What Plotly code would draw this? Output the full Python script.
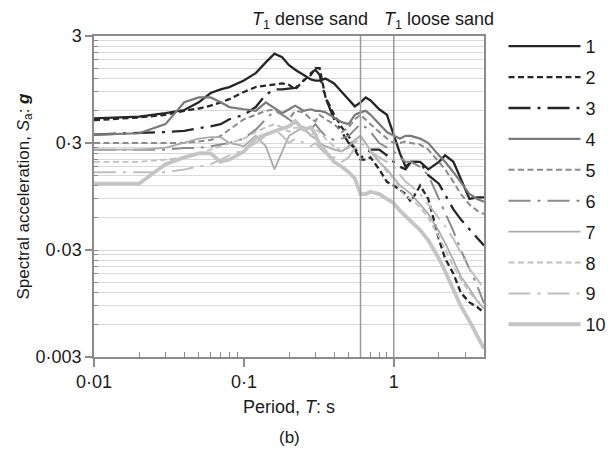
import math
import plotly.graph_objects as go

# ---- data ----
periods = [0.01, 0.02, 0.03, 0.04, 0.05, 0.06, 0.07, 0.08, 0.1, 0.12, 0.14, 0.16, 0.18, 0.2,
           0.22, 0.25, 0.28, 0.3, 0.32, 0.35, 0.4, 0.45, 0.5, 0.55, 0.6, 0.65, 0.7, 0.8, 0.9,
           1.0, 1.1, 1.2, 1.3, 1.5, 1.7, 2.0, 2.2, 2.5, 2.8, 3.2, 3.6, 4.0]

sa_1 = [0.51, 0.53, 0.57, 0.61, 0.72, 0.88, 0.95, 1.0, 1.15, 1.35, 1.7, 2.05, 1.9, 1.6,
        1.45, 1.3, 1.18, 1.15, 1.15, 1.2, 1.08, 0.9, 0.76, 0.66, 0.72, 0.8, 0.75, 0.62, 0.55,
        0.36, 0.24, 0.18, 0.2, 0.2, 0.17, 0.2, 0.23, 0.2, 0.14, 0.09, 0.093, 0.093]
sa_2 = [0.49, 0.52, 0.55, 0.6, 0.63, 0.67, 0.72, 0.77, 0.9, 1.0, 1.03, 1.05, 1.08, 1.05,
        0.95, 1.15, 1.3, 1.5, 1.5, 0.81, 0.55, 0.42, 0.35, 0.26, 0.21, 0.21, 0.22, 0.17, 0.13,
        0.12, 0.11, 0.1, 0.085, 0.12, 0.09, 0.038, 0.025, 0.018, 0.012, 0.0097, 0.0088, 0.0078]
sa_3 = [0.36, 0.37, 0.38, 0.39, 0.41, 0.43, 0.45, 0.5, 0.55, 0.65, 0.85, 0.95, 0.95, 0.97,
        0.98, 1.15, 1.35, 1.45, 1.3, 0.8, 0.5, 0.38, 0.3, 0.27, 0.22, 0.23, 0.26, 0.26, 0.23,
        0.2, 0.18, 0.17, 0.2, 0.2, 0.15, 0.125, 0.1, 0.072, 0.058, 0.047, 0.039, 0.033]
sa_4 = [0.36, 0.37, 0.45, 0.72, 0.8, 0.8, 0.72, 0.65, 0.62, 0.6, 0.72, 0.63, 0.57, 0.62,
        0.67, 0.6, 0.62, 0.6, 0.6, 0.58, 0.52, 0.47, 0.45, 0.55, 0.58, 0.6, 0.55, 0.45, 0.38,
        0.35, 0.33, 0.35, 0.35, 0.33, 0.3, 0.23, 0.2, 0.16, 0.13, 0.1, 0.09, 0.085]
sa_5 = [0.3, 0.3, 0.3, 0.3, 0.31, 0.32, 0.35, 0.4, 0.5, 0.55, 0.6, 0.62, 0.55, 0.5,
        0.6, 0.58, 0.5, 0.48, 0.55, 0.5, 0.45, 0.38, 0.42, 0.5, 0.55, 0.5, 0.45, 0.38, 0.33,
        0.3, 0.3, 0.31, 0.3, 0.29, 0.26, 0.2, 0.17, 0.13, 0.1, 0.08, 0.07, 0.065]
sa_6 = [0.26, 0.26, 0.26, 0.27, 0.27, 0.28, 0.29, 0.3, 0.33, 0.4, 0.5, 0.6, 0.55, 0.5,
        0.45, 0.42, 0.4, 0.45, 0.4, 0.35, 0.32, 0.33, 0.35, 0.4, 0.45, 0.42, 0.38, 0.3, 0.27,
        0.25, 0.22, 0.2, 0.2, 0.18, 0.15, 0.09, 0.065, 0.045, 0.03, 0.02, 0.014, 0.0095]
sa_7 = [0.26, 0.26, 0.27, 0.3, 0.33, 0.34, 0.34, 0.3, 0.28, 0.35, 0.28, 0.17, 0.25, 0.35,
        0.38, 0.42, 0.35, 0.33, 0.3, 0.28, 0.26, 0.25, 0.28, 0.32, 0.35, 0.3, 0.25, 0.2, 0.17,
        0.14, 0.12, 0.11, 0.1, 0.08, 0.065, 0.045, 0.035, 0.024, 0.017, 0.013, 0.01, 0.0085]
sa_8 = [0.2, 0.2, 0.21, 0.22, 0.24, 0.26, 0.28, 0.3, 0.33, 0.38, 0.42, 0.45, 0.42, 0.38,
        0.42, 0.4, 0.35, 0.4, 0.38, 0.33, 0.28, 0.25, 0.27, 0.3, 0.33, 0.3, 0.26, 0.2, 0.16,
        0.14, 0.11, 0.095, 0.09, 0.075, 0.06, 0.04, 0.03, 0.021, 0.016, 0.012, 0.01, 0.0095]
sa_9 = [0.16, 0.16, 0.16, 0.17, 0.18, 0.19, 0.21, 0.23, 0.26, 0.3, 0.35, 0.4, 0.35, 0.3,
        0.33, 0.3, 0.28, 0.3, 0.27, 0.24, 0.22, 0.2, 0.22, 0.27, 0.3, 0.28, 0.25, 0.22, 0.2,
        0.18, 0.15, 0.13, 0.12, 0.1, 0.08, 0.06, 0.05, 0.038, 0.028, 0.02, 0.016, 0.013]
sa_10 = [0.125, 0.125, 0.19, 0.22, 0.24, 0.24, 0.2, 0.21, 0.25, 0.33, 0.36, 0.39, 0.41, 0.43,
         0.48, 0.4, 0.42, 0.36, 0.29, 0.25, 0.2, 0.18, 0.16, 0.14, 0.1, 0.1, 0.105, 0.1, 0.09,
         0.082, 0.07, 0.062, 0.055, 0.046, 0.037, 0.025, 0.019, 0.013, 0.009, 0.0065, 0.0048, 0.0036]

series = [sa_1, sa_2, sa_3, sa_4, sa_5, sa_6, sa_7, sa_8, sa_9, sa_10]
names = ["1", "2", "3", "4", "5", "6", "7", "8", "9", "10"]

T1_dense = 0.6
T1_loose = 1.0

x_tick_vals = [0.01, 0.1, 1]
x_tick_text = ["0·01", "0·1", "1"]
y_tick_vals = [0.003, 0.03, 0.3, 3]
y_tick_text = ["0·003", "0·03", "0·3", "3"]

# ---- styles ----
dashdot = "22px,7px,3px,7px"
styles = [
    dict(color="#262626", width=2.3, dash="solid"),
    dict(color="#262626", width=2.3, dash="6px,3.5px"),
    dict(color="#262626", width=2.3, dash=dashdot),
    dict(color="#7a7a7a", width=2.2, dash="solid"),
    dict(color="#8a8a8a", width=2.0, dash="6px,3.5px"),
    dict(color="#8a8a8a", width=2.0, dash=dashdot),
    dict(color="#ababab", width=1.8, dash="solid"),
    dict(color="#c0c0c0", width=1.8, dash="6px,3.5px"),
    dict(color="#c0c0c0", width=2.0, dash=dashdot),
    dict(color="#c4c4c4", width=3.8, dash="solid"),
]

fig = go.Figure()
for name, vals, st in zip(names, series, styles):
    fig.add_trace(go.Scatter(x=periods, y=vals, mode="lines", name=name,
                             legendgroup=name, line=st))

# minor grid values (Excel-style multiples of each decade start)
y_minor = []
for base in [0.003, 0.03, 0.3]:
    for k in range(1, 10):
        y_minor.append(round(base * k, 6))
x_minor = []
for base in [0.01, 0.1, 1]:
    for k in range(2, 10):
        if base * k <= 4.0001:
            x_minor.append(round(base * k, 6))

font_family = "Liberation Sans, Arial, sans-serif"
axis_col = "#8c8c8c"

fig.update_layout(
    width=611, height=457,
    margin=dict(l=94, r=127, t=36, b=100, autoexpand=False),
    paper_bgcolor="white", plot_bgcolor="white",
    font=dict(family=font_family, size=18, color="#1a1a1a"),
    showlegend=True,
    legend=dict(x=1.05, xanchor="left", y=1.025, yanchor="top",
                itemwidth=72, tracegroupgap=4.5, maxheight=440,
                font=dict(size=18, color="#1a1a1a"), bgcolor="rgba(0,0,0,0)"),
    xaxis=dict(type="log", range=[-2, 0.60206],
               tickvals=x_tick_vals, ticktext=x_tick_text,
               ticks="outside", ticklen=8, tickcolor=axis_col, tickwidth=1.5,
               showgrid=False, zeroline=False,
               showline=True, linecolor=axis_col, linewidth=1.5, mirror=True,
               minor=dict(tickmode="array", tickvals=x_minor, ticks="inside",
                          ticklen=5, tickcolor=axis_col, tickwidth=1.2, showgrid=False),
               title=dict(text="Period, <i>T</i>: s", standoff=9,
                          font=dict(size=18))),
    yaxis=dict(type="log", range=[-2.52288, 0.47712],
               tickvals=y_tick_vals, ticktext=y_tick_text,
               ticks="outside", ticklen=7, tickcolor=axis_col, tickwidth=1.5,
               showgrid=True, gridcolor="#d9d9d9", gridwidth=1.2, zeroline=False,
               showline=True, linecolor=axis_col, linewidth=1.5, mirror=True,
               minor=dict(tickmode="array", tickvals=y_minor, ticks="inside",
                          ticklen=4, tickcolor=axis_col, tickwidth=1.2,
                          showgrid=True, gridcolor="#d9d9d9", gridwidth=1.2),
               title=dict(text="Spectral acceleration, <i>S</i><sub>a</sub>: <b><i>g</i></b>",
                          standoff=2, font=dict(size=17))),
)

for tval in [T1_dense, T1_loose]:
    fig.add_shape(type="line", xref="x", yref="paper", x0=tval, x1=tval, y0=0, y1=1,
                  line=dict(color="#9a9a9a", width=1.5), layer="above")

# annotations on a log axis take log10 positions
fig.add_annotation(x=math.log10(T1_dense), xref="x", y=1, yref="paper", yanchor="bottom",
                   xanchor="right", xshift=9, yshift=2, showarrow=False,
                   text="<i>T</i><sub>1</sub> dense sand", font=dict(size=18))
fig.add_annotation(x=math.log10(T1_loose), xref="x", y=1, yref="paper", yanchor="bottom",
                   xanchor="left", xshift=-12, yshift=2, showarrow=False,
                   text="<i>T</i><sub>1</sub> loose sand", font=dict(size=18))
fig.add_annotation(x=0.5, xref="paper", y=-(437 - 357) / 321, yref="paper", yanchor="middle",
                   showarrow=False, text="(b)", font=dict(size=17))

fig.write_html("out.html")
